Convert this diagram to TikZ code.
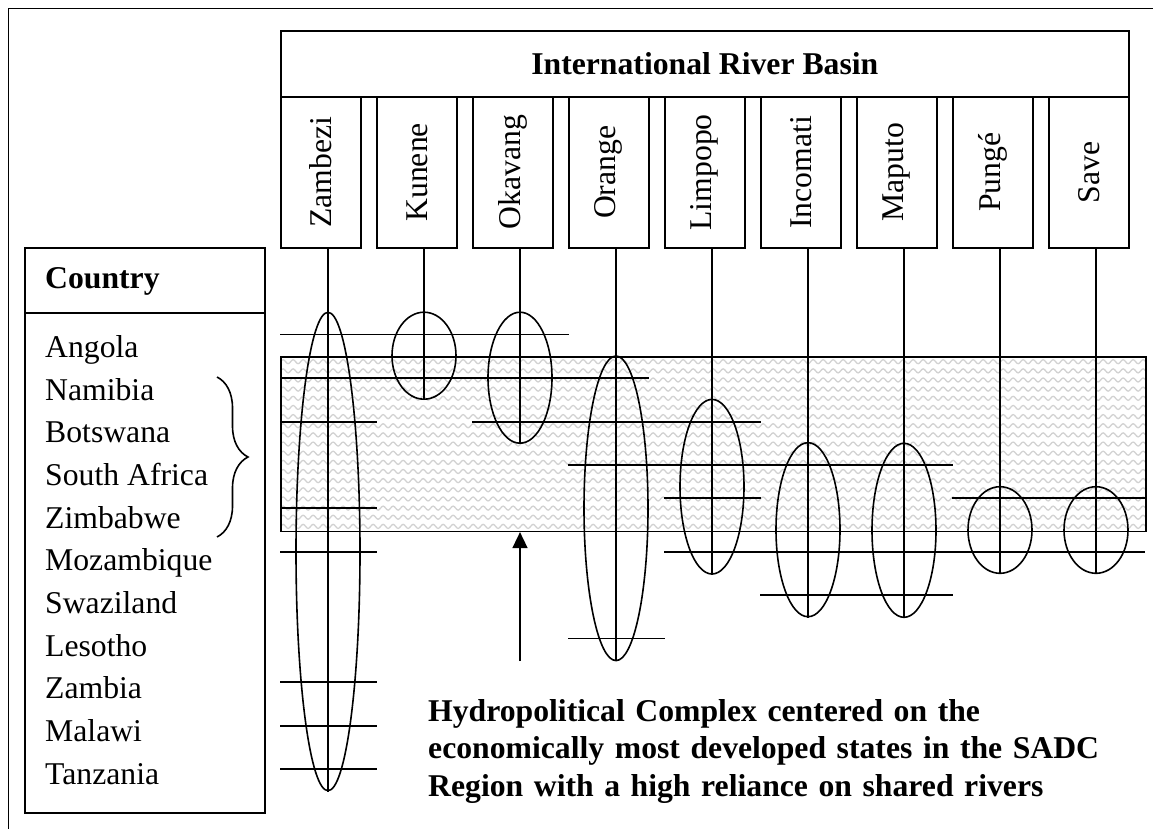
\documentclass[tikz,border=0pt]{standalone}
\usepackage{fontspec}
\setmainfont{Liberation Serif}
\usetikzlibrary{shapes.geometric,arrows.meta,decorations.pathmorphing,decorations.pathreplacing}
\begin{document}
\begin{tikzpicture}[x=1pt,y=-1pt,
  ln/.style={line width=1.6pt},
  rbox/.style={draw,line width=1.6pt,minimum width=80pt,minimum height=151pt,inner sep=0pt,anchor=north west,font=\fontsize{31.7}{38}\selectfont},
  ell/.style={draw,ellipse,line width=1.6pt,minimum width=64pt,inner sep=0pt},
  cname/.style={anchor=base west,inner sep=0pt,font=\fontsize{31.7}{38}\selectfont},
  cbold/.style={anchor=base west,inner sep=0pt,font=\bfseries\fontsize{31.7}{38}\selectfont},
  wave/.style={draw=gray!35,line width=1.3pt,decorate,decoration={snake,segment length=10pt,amplitude=2pt}}
]
\useasboundingbox (0,0) rectangle (1153,829);
% outer frame (partly outside the page)
\draw[ln] (8.5,829) -- (8.5,8.5) -- (1153,8.5);

% header
\node[draw,ln,anchor=north west,minimum width=848pt,minimum height=66pt,inner sep=0pt,
      font=\bfseries\fontsize{31.7}{38}\selectfont] (hdr) at (280,30) {International River Basin};

% river boxes
\node[rbox] (b1) at (280,96)  {\rotatebox{90}{Zambezi}};
\node[rbox] (b2) at (376,96)  {\rotatebox{90}{Kunene}};
\node[rbox] (b3) at (472,96)  {\rotatebox{90}{Okavang}};
\node[rbox] (b4) at (568,96)  {\rotatebox{90}{Orange}};
\node[rbox] (b5) at (664,96)  {\rotatebox{90}{Limpopo}};
\node[rbox] (b6) at (760,96)  {\rotatebox{90}{Incomati}};
\node[rbox] (b7) at (856,96)  {\rotatebox{90}{Maputo}};
\node[rbox] (b8) at (952,96)  {\rotatebox{90}{Pungé}};
\node[rbox] (b9) at (1048,96) {\rotatebox{90}{Save}};

% shaded band
\begin{scope}
  \clip (280,356) rectangle (1145,530.5);
  \foreach \yy in {361.7,370.85,...,531}{\draw[wave] (270,\yy) -- (1155,\yy);}
\end{scope}
\node[draw,ln,anchor=north west,minimum width=865pt,minimum height=174.5pt,inner sep=0pt] (sadc) at (280,356) {};

% membership lines
\draw[ln] (280,334.5) -- (569,334.5);
\draw[ln] (280,378) -- (649,378);
\draw[ln] (280,422) -- (377,422);
\draw[ln] (472,422) -- (761,422);
\draw[ln] (568,465) -- (953,465);
\draw[ln] (664,498) -- (761,498);
\draw[ln] (952,498) -- (1145,498);
\draw[ln] (280,508) -- (377,508);
\draw[ln] (280,551.7) -- (377,551.7);
\draw[ln] (664,551.7) -- (1145,551.7);
\draw[ln] (760,595) -- (953,595);
\draw[ln] (568,638.5) -- (665,638.5);
\draw[ln] (280,682) -- (377,682);
\draw[ln] (280,725.7) -- (377,725.7);
\draw[ln] (280,769) -- (377,769);

% ellipses
\node[ell,minimum height=478.4pt] (e1) at (328,551.5) {};
\node[ell,minimum height=87pt]    (e2) at (424,355.7) {};
\node[ell,minimum height=131pt]   (e3) at (520,377.7) {};
\node[ell,minimum height=304.6pt] (e4) at (616,508.3) {};
\node[ell,minimum height=174.6pt] (e5) at (712,486.7) {};
\node[ell,minimum height=174pt]   (e6) at (808,529.7) {};
\node[ell,minimum height=174pt]   (e7) at (904,530.3) {};
\node[ell,minimum height=86.6pt]  (e8) at (1000,530) {};
\node[ell,minimum height=86.6pt]  (e9) at (1096,530) {};

% stems
\foreach \i in {1,...,9}{\draw[ln] (e\i.north |- b\i.south) -- (e\i.south);}

% arrow
\coordinate (atail) at (520,661);
\draw[ln,-{Triangle[width=15pt,length=16pt]}] (atail) -- (atail |- sadc.south);

% country table
\node[draw,ln,anchor=north west,minimum width=240pt,minimum height=65pt,inner sep=0pt] (chead) at (24,247) {};
\node[draw,ln,anchor=north west,minimum width=240pt,minimum height=500pt,inner sep=0pt] (clist) at (24,312) {};
\node[cbold] (ctitle) at (45,288.5) {Country};
\foreach \n [count=\i from 0] in {Angola,Namibia,Botswana,South Africa,Zimbabwe,Mozambique,Swaziland,Lesotho,Zambia,Malawi,Tanzania}
  {\node[cname] (c\i) at (45,357.3+42.7*\i) {\n};}

% brace
\draw[ln,decorate,decoration={brace,amplitude=31pt}] (217,377) -- (217,537);

% caption
\node[anchor=base west,text width=720pt,align=left,inner sep=0pt,
      font=\bfseries\fontsize{31.7}{37.2}\selectfont] (hpc) at (428,721.7)
  {Hydropolitical Complex centered on the\\economically most developed states in the SADC\\Region with a high reliance on shared rivers};
\end{tikzpicture}
\end{document}
